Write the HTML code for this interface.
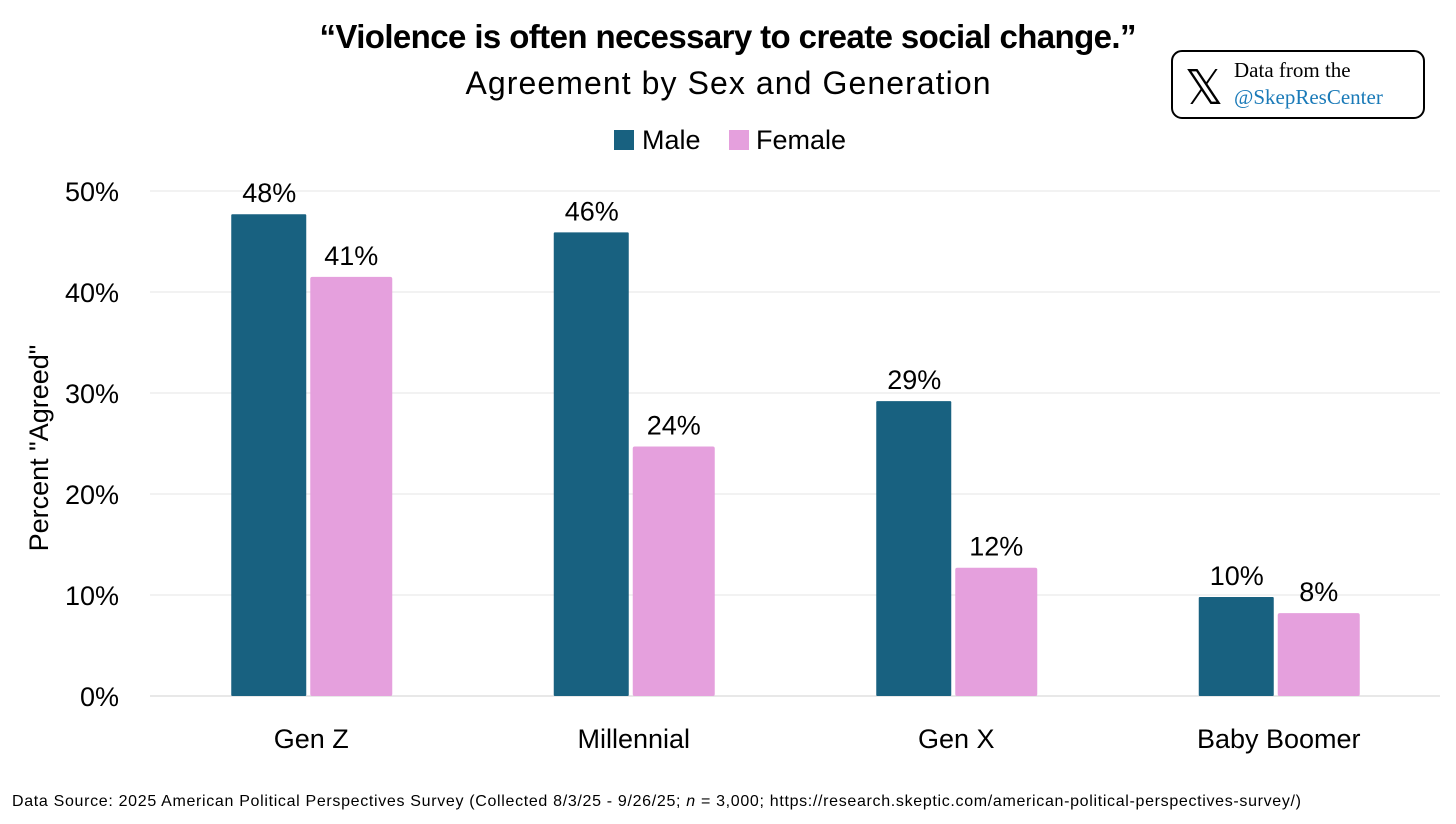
<!DOCTYPE html>
<html><head><meta charset="utf-8"><style>
body{margin:0;width:1456px;height:819px;background:#fff;overflow:hidden;font-family:"Liberation Sans",sans-serif}
</style></head><body>
<svg width="1456" height="819" xmlns="http://www.w3.org/2000/svg">
<text x="728" y="48" text-anchor="middle" font-size="33" font-weight="bold" fill="#000" textLength="817">“Violence is often necessary to create social change.”</text>
<text x="728" y="94" text-anchor="middle" font-size="32" fill="#000" textLength="525">Agreement by Sex and Generation</text>
<g>
<rect x="1172" y="51" width="252" height="67" rx="10" fill="#fff" stroke="#000" stroke-width="2"/>
<text x="1204" y="104" text-anchor="middle" font-size="48" font-family="Liberation Sans" fill="#000">𝕏</text>
<text x="1234" y="77" font-size="21" font-family="Liberation Serif,serif" fill="#000">Data from the</text>
<text x="1234" y="104" font-size="21" font-family="Liberation Serif,serif" fill="#1a7ab8">@SkepResCenter</text>
</g>
<g>
<rect x="614" y="130" width="20" height="20" fill="#186180"/>
<text x="642" y="149" font-size="27" fill="#000">Male</text>
<rect x="729" y="130" width="20" height="20" fill="#e5a0dd"/>
<text x="756" y="149" font-size="27" fill="#000">Female</text>
</g>
<text transform="translate(48,448) rotate(-90)" text-anchor="middle" font-size="27" fill="#000">Percent "Agreed"</text>
<g id="plot"></g>
<text x="12" y="806" font-size="16" fill="#000" textLength="1289">Data Source: 2025 American Political Perspectives Survey (Collected 8/3/25 - 9/26/25; <tspan font-style="italic">n</tspan> = 3,000; https://research.skeptic.com/american-political-perspectives-survey/)</text>
</svg>
<script>
const categories=["Gen Z","Millennial","Gen X","Baby Boomer"];
const maleValues=[47.7,45.9,29.2,9.8];
const femaleValues=[41.5,24.7,12.7,8.2];
const maleLabels=["48%","46%","29%","10%"];
const femaleLabels=["41%","24%","12%","8%"];
const yTicks=[0,10,20,30,40,50];
const NS="http://www.w3.org/2000/svg";
const g=document.getElementById('plot');
const x0=150,x1=1440,yBase=696,yTop=191,vMax=50;
const y=v=>yBase-(v/vMax)*(yBase-yTop);
const gw=(x1-x0)/categories.length;
const cx=i=>x0+gw*(i+0.5);
function mk(tag,attrs){const e=document.createElementNS(NS,tag);for(const k in attrs)e.setAttribute(k,attrs[k]);g.appendChild(e);return e;}
yTicks.forEach(t=>{
 const l=mk('line',{x1:x0,x2:x1,y1:y(t),y2:y(t),stroke:t===0?'#d0d0d0':'#e4e4e4','stroke-width':1});
 
 
 const tx=mk('text',{x:119,y:y(t)+10,'text-anchor':'end','font-size':27,fill:'#000'});
 tx.textContent=t+'%';
 
 
});
categories.forEach((c,i)=>{
 const c0=cx(i);
 const mb=mk('rect',{x:c0-80,y:y(maleValues[i]),width:75,height:yBase-y(maleValues[i]),fill:'#186180',rx:1});
 
 
 const fb=mk('rect',{x:c0-1,y:y(femaleValues[i]),width:82,height:yBase-y(femaleValues[i]),fill:'#e5a0dd',rx:2});
 
 
 const ml=mk('text',{x:c0-42,y:y(maleValues[i])-12,'text-anchor':'middle','font-size':27,fill:'#000'});
 ml.textContent=maleLabels[i];
 
 
 const fl=mk('text',{x:c0+40,y:y(femaleValues[i])-12,'text-anchor':'middle','font-size':27,fill:'#000'});
 fl.textContent=femaleLabels[i];
 
 
 const xl=mk('text',{x:c0,y:748,'text-anchor':'middle','font-size':27,fill:'#000'});
 xl.textContent=c;
 
 
});
</script>
</body></html>
